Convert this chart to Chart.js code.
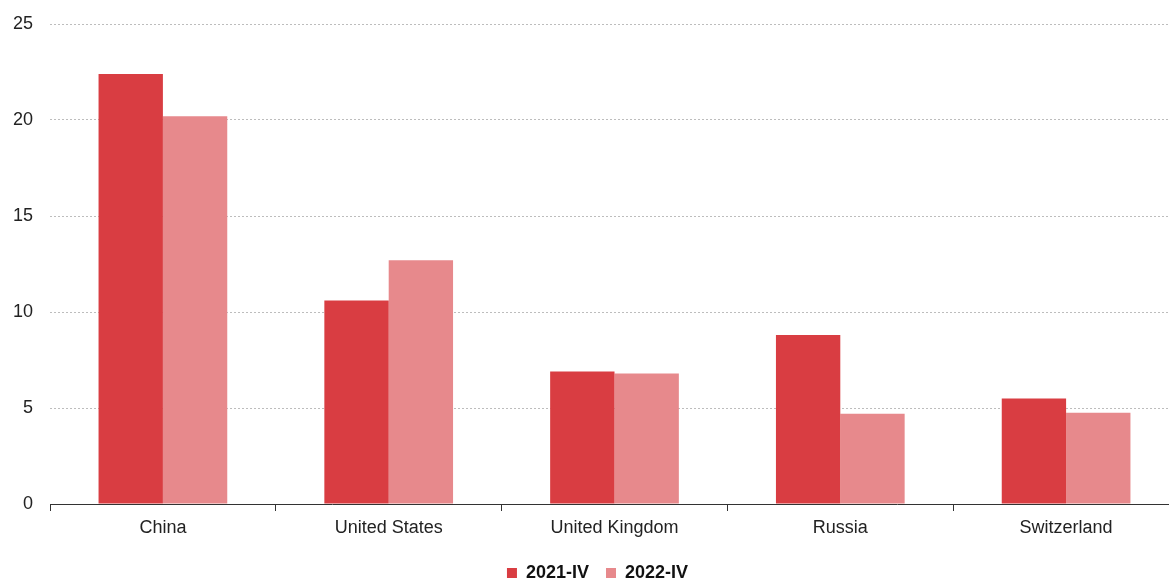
<!DOCTYPE html>
<html>
<head>
<meta charset="utf-8">
<script src="https://cdn.jsdelivr.net/npm/chart.js@4"></script>
<style>
  html, body { margin: 0; padding: 0; background: #fff; }
  #wrap { width: 1169px; height: 581px; overflow: hidden; }
</style>
</head>
<body>
<div id="wrap"><canvas id="myChart" width="1180" height="592"></canvas></div>
<script>
const countries = ['China', 'United States', 'United Kingdom', 'Russia', 'Switzerland'];
const q2021 = [22.4, 10.6, 6.9, 8.8, 5.5];
const q2022 = [20.2, 12.7, 6.8, 4.7, 4.75];
const seriesNames = ['2021-IV', '2022-IV'];

const ctx = document.getElementById('myChart');

// nudge the legend a bit right so it sits under the visible part
const shiftLegend = {
    id: 'shiftLegend',
    afterLayout(chart) {
        chart.legend.left += 8;
        chart.legend.right += 8;
    }
};

new Chart(ctx, {
    type: 'bar',
    data: {
        labels: countries,
        datasets: [{
            label: seriesNames[0],
            data: q2021,
            backgroundColor: '#d93d42',
            categoryPercentage: 0.57,
            barPercentage: 1.0
        }, {
            label: seriesNames[1],
            data: q2022,
            backgroundColor: '#e7898c',
            categoryPercentage: 0.57,
            barPercentage: 1.0
        }]
    },
    plugins: [shiftLegend],
    options: {
        responsive: false,
        animation: false,
        layout: { padding: { top: 24, right: 1, left: 0, bottom: 0 } },
        plugins: {
            tooltip: { enabled: false },
            legend: {
                position: 'bottom',
                labels: {
                    boxWidth: 10,
                    boxHeight: 10,
                    padding: 17,
                    color: '#111',
                    font: { family: 'Liberation Sans', size: 18, weight: 'bold' }
                }
            }
        },
        scales: {
            x: {
                afterFit: (scale) => { scale.height = 43; },
                grid: {
                    drawOnChartArea: false,
                    drawTicks: true,
                    tickLength: 7,
                    color: '#333'
                },
                border: { display: true, color: '#333', width: 1 },
                ticks: {
                    color: '#222',
                    padding: 6,
                    font: { family: 'Liberation Sans', size: 18 }
                }
            },
            y: {
                min: 0,
                max: 25,
                afterFit: (scale) => {
                    scale.width = 50;
                    scale.paddingTop = 0;
                },
                grid: {
                    drawTicks: false,
                    color: (c) => c.tick.value === 0 ? 'rgba(0,0,0,0)' : '#bdbdbd',
                    lineWidth: 1
                },
                border: { display: false, dash: [2, 2] },
                ticks: {
                    stepSize: 5,
                    color: '#222',
                    padding: 17,
                    font: { family: 'Liberation Sans', size: 18 }
                }
            }
        }
    }
});
</script>
</body>
</html>
